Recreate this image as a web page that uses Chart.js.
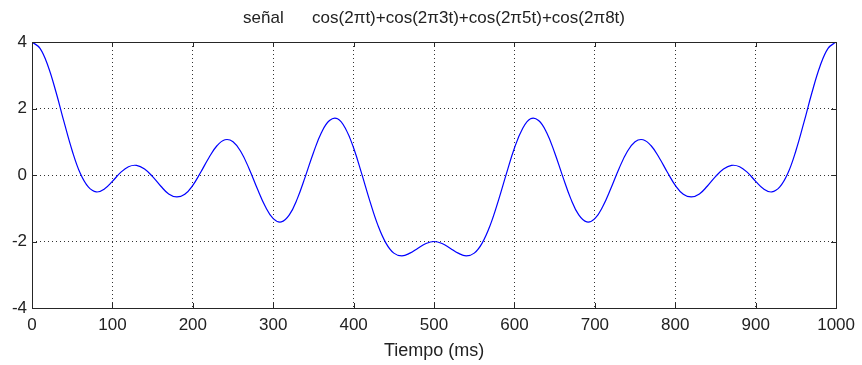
<!DOCTYPE html>
<html>
<head>
<meta charset="utf-8">
<script src="https://cdn.jsdelivr.net/npm/chart.js@4/dist/chart.umd.min.js"></script>
<style>
  html, body { margin: 0; padding: 0; background: #fff; }
  #wrap { width: 862px; height: 365px; }
</style>
</head>
<body>
<div id="wrap"><canvas id="chart"></canvas></div>
<script>
// time in ms, read every 10 ms
const timeMs = [
  0, 10, 20, 30, 40, 50, 60, 70, 80, 90,
  100, 110, 120, 130, 140, 150, 160, 170, 180, 190,
  200, 210, 220, 230, 240, 250, 260, 270, 280, 290,
  300, 310, 320, 330, 340, 350, 360, 370, 380, 390,
  400, 410, 420, 430, 440, 450, 460, 470, 480, 490,
  500, 510, 520, 530, 540, 550, 560, 570, 580, 590,
  600, 610, 620, 630, 640, 650, 660, 670, 680, 690,
  700, 710, 720, 730, 740, 750, 760, 770, 780, 790,
  800, 810, 820, 830, 840, 850, 860, 870, 880, 890,
  900, 910, 920, 930, 940, 950, 960, 970, 980, 990,
  1000
];

// signal value at each time
const signal = [
  4.00, 3.81, 3.27, 2.48, 1.58, 0.73, 0.05, -0.36, -0.51, -0.42,
  -0.19, 0.07, 0.25, 0.29, 0.18, -0.05, -0.33, -0.57, -0.66, -0.58,
  -0.31, 0.09, 0.52, 0.88, 1.06, 1.00, 0.69, 0.19, -0.40, -0.94,
  -1.31, -1.41, -1.20, -0.71, -0.04, 0.67, 1.28, 1.64, 1.69, 1.39,
  0.81, 0.04, -0.77, -1.50, -2.04, -2.35, -2.43, -2.35, -2.20, -2.06,
  -2.00, -2.06, -2.20, -2.35, -2.43, -2.35, -2.04, -1.50, -0.77, 0.04,
  0.81, 1.39, 1.69, 1.64, 1.28, 0.67, -0.04, -0.71, -1.20, -1.41,
  -1.31, -0.94, -0.40, 0.19, 0.69, 1.00, 1.06, 0.88, 0.52, 0.09,
  -0.31, -0.58, -0.66, -0.57, -0.33, -0.05, 0.18, 0.29, 0.25, 0.07,
  -0.19, -0.42, -0.51, -0.36, 0.05, 0.73, 1.58, 2.48, 3.27, 3.81,
  4.00
];

const xTicks = [0, 100, 200, 300, 400, 500, 600, 700, 800, 900, 1000];
const yTicks = [-4, -2, 0, 2, 4];

const titleText = 'señal      cos(2πt)+cos(2π3t)+cos(2π5t)+cos(2π8t)';
const xTitle = 'Tiempo (ms)';

const points = timeMs.map((t, i) => ({ x: t, y: signal[i] }));

// matlab style box with inward ticks
const boxPlugin = {
  id: 'box',
  afterDatasetsDraw(chart) {
    const { ctx, chartArea: a, scales } = chart;
    const len = 5;
    ctx.save();
    ctx.strokeStyle = '#262626';
    ctx.lineWidth = 1;
    ctx.beginPath();
    xTicks.forEach(v => {
      const px = Math.round(scales.x.getPixelForValue(v)) + 0.5;
      ctx.moveTo(px, a.bottom); ctx.lineTo(px, a.bottom - len);
      ctx.moveTo(px, a.top); ctx.lineTo(px, a.top + len);
    });
    yTicks.forEach(v => {
      const py = Math.round(scales.y.getPixelForValue(v)) + 0.5;
      ctx.moveTo(a.left, py); ctx.lineTo(a.left + len, py);
      ctx.moveTo(a.right, py); ctx.lineTo(a.right - len, py);
    });
    ctx.stroke();
    ctx.strokeRect(Math.round(a.left) + 0.5, Math.round(a.top) + 0.5,
      Math.round(a.right - a.left), Math.round(a.bottom - a.top));
    ctx.restore();
  }
};

new Chart(document.getElementById('chart'), {
  type: 'line',
  data: {
    datasets: [{
      data: points,
      borderColor: '#0000ff',
      borderWidth: 1.2,
      pointRadius: 0,
      tension: 0.4,
      fill: false
    }]
  },
  options: {
    responsive: true,
    maintainAspectRatio: false,
    animation: false,
    layout: { padding: { left: 0, right: 24, top: 0, bottom: 0 } },
    plugins: {
      legend: { display: false },
      tooltip: { enabled: false },
      title: {
        display: true,
        fullSize: false,
        text: titleText,
        color: '#222',
        font: { family: 'Liberation Sans', size: 17, weight: 'normal', lineHeight: 1.2 },
        padding: { top: 8, bottom: 13.6 }
      }
    },
    scales: {
      x: {
        type: 'linear',
        min: 0,
        max: 1000,
        afterFit: s => { s.height = 57; },
        afterBuildTicks: s => { s.ticks = xTicks.map(v => ({ value: v })); },
        ticks: {
          color: '#222',
          padding: 7,
          maxRotation: 0,
          callback: v => String(v),
          font: { family: 'Liberation Sans', size: 17 }
        },
        grid: {
          color: '#333',
          drawTicks: false,
          lineWidth: 1
        },
        border: { display: false, dash: [1, 3] },
        title: {
          display: true,
          text: xTitle,
          color: '#222',
          font: { family: 'Liberation Sans', size: 18 },
          padding: { top: 0, bottom: 3 }
        }
      },
      y: {
        min: -4,
        max: 4,
        afterFit: s => { s.width = 32; },
        afterBuildTicks: s => { s.ticks = yTicks.map(v => ({ value: v })); },
        ticks: {
          color: '#222',
          padding: 5,
          callback: v => String(v),
          font: { family: 'Liberation Sans', size: 17 }
        },
        grid: {
          color: '#333',
          drawTicks: false,
          lineWidth: 1
        },
        border: { display: false, dash: [1, 3] }
      }
    }
  },
  plugins: [boxPlugin]
});
</script>
</body>
</html>
